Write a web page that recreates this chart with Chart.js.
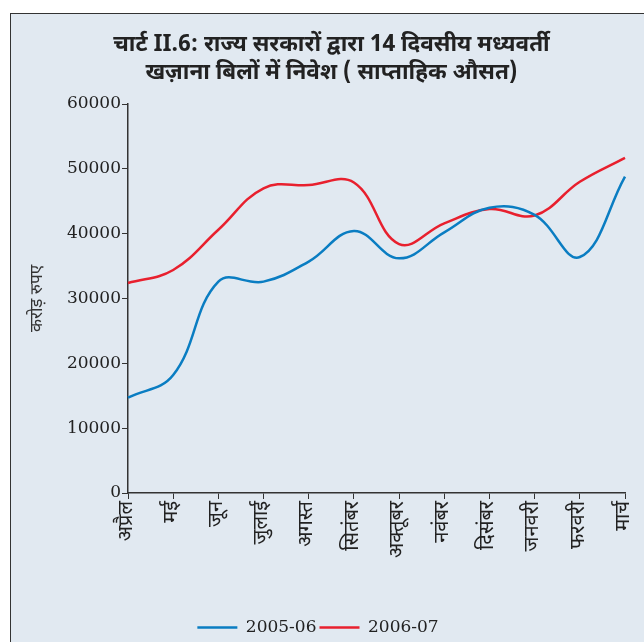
<!DOCTYPE html>
<html>
<head>
<meta charset="utf-8">
<script src="https://cdn.jsdelivr.net/npm/chart.js@4/dist/chart.umd.min.js"></script>
<style>
  html, body { margin: 0; padding: 0; background: #fff; }
  #frame {
    position: absolute; left: 10px; top: 13px; width: 634px; height: 629px;
    background: #e1e9f1; border-left: 1.5px solid #333; border-top: 1.5px solid #333;
    box-sizing: border-box;
  }
  #frame canvas { display: block; }
  #title {
    position: absolute; left: 8px; right: 0; top: 18px; text-align: center;
    font-family: "Noto Sans Devanagari", "Lohit Devanagari", "FreeSerif", serif;
    font-weight: bold; font-size: 22.5px; line-height: 28px; color: #222;
  }
</style>
</head>
<body>
<div id="frame">
  <div id="title">चार्ट II.6: राज्य सरकारों द्वारा 14 दिवसीय मध्यवर्ती<br>खज़ाना बिलों में निवेश ( साप्ताहिक औसत)</div>
  <canvas id="chart" width="632" height="627"></canvas>
</div>
<script>
const months = ['अप्रैल', 'मई', 'जून', 'जुलाई', 'अगस्त', 'सितंबर', 'अक्तूबर', 'नवंबर', 'दिसंबर', 'जनवरी', 'फरवरी', 'मार्च'];
const series2005 = [14700, 18200, 32600, 32600, 35700, 40400, 36200, 40200, 44000, 42900, 36400, 48800];
const series2006 = [32400, 34400, 40600, 47000, 47500, 47900, 38400, 41600, 43800, 42800, 48000, 51700];
const yTicks = [0, 10000, 20000, 30000, 40000, 50000, 60000];

const devFont = '"Noto Sans Devanagari", "Lohit Devanagari", "FreeSerif", "Noto Serif Devanagari", serif';
const numFont = '"DejaVu Serif", "Liberation Serif", serif';

new Chart(document.getElementById('chart'), {
  type: 'line',
  data: {
    labels: months,
    datasets: [
      { label: '2005-06', data: series2005, borderColor: '#0a7dc2', backgroundColor: '#0a7dc2', borderWidth: 2.5, pointRadius: 0, tension: 0.4 },
      { label: '2006-07', data: series2006, borderColor: '#e8202e', backgroundColor: '#e8202e', borderWidth: 2.5, pointRadius: 0, tension: 0.4 }
    ]
  },
  options: {
    responsive: false,
    animation: false,
    layout: { padding: { left: 0, right: 18, top: 90, bottom: -5 } },
    plugins: {
      title: { display: false },
      legend: {
        position: 'bottom',
        labels: {
          usePointStyle: true,
          pointStyle: 'line',
          pointStyleWidth: 40,
          color: '#222',
          font: { family: numFont, size: 17 },
          padding: 3
        }
      },
      tooltip: { enabled: false }
    },
    scales: {
      x: {
        offset: false,
        grid: { drawOnChartArea: false, drawTicks: true, tickLength: 6, color: '#333' },
        border: { color: '#333', width: 1.5 },
        ticks: { color: '#222', maxRotation: 90, minRotation: 90, autoSkip: false, padding: 2, font: { family: devFont, size: 20 } },
        afterFit: s => { s.height = 123; s.paddingLeft = 0; s.paddingRight = 0; }
      },
      y: {
        min: 0, max: 60000,
        afterBuildTicks: s => { s.ticks = yTicks.map(v => ({ value: v })); },
        grid: { drawOnChartArea: false, drawTicks: true, tickLength: 6, color: '#333' },
        border: { color: '#333', width: 1.5 },
        ticks: { color: '#222', padding: 1, font: { family: numFont, size: 17 }, callback: v => String(v) },
        title: { display: true, text: 'करोड़ रुपए', color: '#333', font: { family: devFont, size: 17 }, padding: { top: 18, bottom: 0 } },
        afterFit: s => { s.width = 117; }
      }
    }
  }
});
</script>
</body>
</html>
